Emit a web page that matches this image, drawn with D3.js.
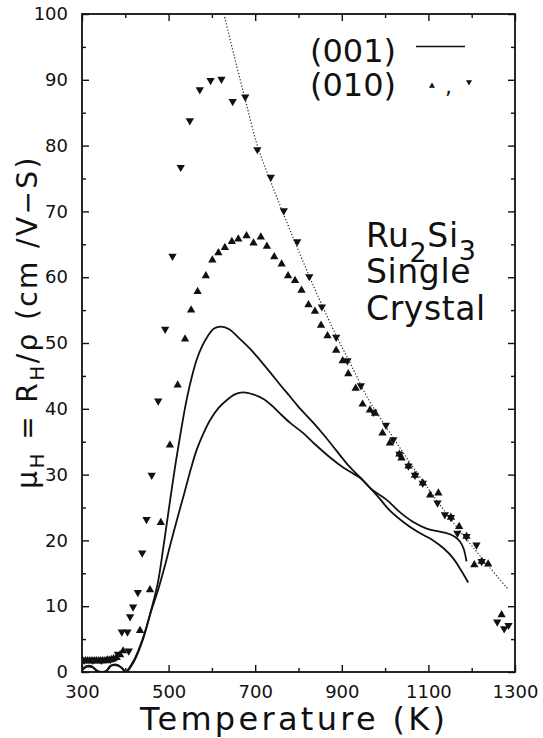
<!DOCTYPE html>
<html>
<head>
<meta charset="utf-8">
<script src="https://cdn.jsdelivr.net/npm/d3@7"></script>
<style>
  body { margin: 0; background: #fff; }
  svg { display: block; font-family: "DejaVu Sans", sans-serif; }
</style>
</head>
<body>
<div id="chart"></div>
<script>
// axis ticks
var xTicks = [300, 500, 700, 900, 1100, 1300];
var xMinorTicks = [400, 600, 800, 1000, 1200];
var yTicks = [0, 10, 20, 30, 40, 50, 60, 70, 80, 90, 100];
var yMinorTicks = [5, 15, 25, 35, 45, 55, 65, 75, 85, 95];

// (001) solid curves, [T (K), mobility]
var curveA = [[300,0.2],[310,0.9],[322,0.9],[335,0.1],[355,0.1],[365,0.9],[380,1.0],[392,0.6],[400,0],
  [420,1.8],[440,5],[460,9.5],[475,13.5],[488,19],[500,24.5],[515,31.2],[530,37.2],[542,41.5],[555,45.2],
  [565,47.5],[578,49.6],[590,51],[605,52.2],[622,52.5],[640,52.1],[665,50.6],[690,49],[711,47.4],
  [735,45.5],[757,43.7],[780,41.9],[800,40.3],[834,37.9],[860,35.9],[888,33.6],[915,31.4],[942,29.6],
  [965,28],[988,26.3],[1010,24.6],[1042,22.8],[1075,21.3],[1111,20],[1135,18.8],[1157,17.3],
  [1175,15.5],[1192,13.6]];
var curveB = [[300,0.3],[312,0.8],[325,0.7],[338,0.1],[357,0.2],[368,1.0],[382,1.1],[394,0.5],[402,0],
  [420,1.6],[440,4.8],[460,9.3],[475,12.3],[490,15.8],[505,19.6],[520,23.3],[538,27.6],[552,31],
  [565,33.8],[580,36.2],[596,38.3],[615,40.1],[634,41.3],[653,42.2],[672,42.5],[695,42.2],[719,41.5],
  [740,40.4],[757,39.3],[780,37.9],[811,36.3],[840,34.5],[873,32.6],[905,31],[942,29.5],[970,27.7],
  [1003,26.2],[1034,24.3],[1065,22.8],[1096,21.8],[1120,21.4],[1142,21.1],[1160,20.6],[1172,19.9],
  [1181,18.8],[1188,16.8]];

// dotted guide line
var fitLine = [[628,100],[650,94],[677,87],[705,80],[736,74.5],[766,69.5],[797,64.5],[826,60],
  [856,55.5],[888,51],[919,47],[961,41.5],[1000,37.5],[1040,33.5],[1080,29.7],[1120,26],[1160,22.5],
  [1200,19.2],[1240,16],[1285,12.5]];

// (010) points, up triangles
var upPoints = [[302,1.7],[308,1.7],[313,1.7],[318,1.7],[323,1.7],[328,1.7],[333,1.7],[338,1.7],
  [343,1.7],[348,1.7],[353,1.7],[358,1.8],[363,1.8],[368,1.9],[373,2.0],[380,2.2],[388,2.6],[395,3.2],
  [434,6.3],[457,12.5],[482,22.7],[503,34.5],[521,43.6],[538,50.6],[552,55],[567,57.8],[586,60.2],
  [601,62.6],[615,63.7],[630,64.5],[646,65.4],[661,65.8],[680,66.3],[696,65.2],[713,66.1],[727,64.7],
  [744,63.1],[761,62],[776,60.2],[792,59.5],[807,58],[823,55.8],[838,54.8],[852,52.7],[867,51.1],
  [887,48.9],[902,47.3],[915,45.3],[932,43.1],[948,40.7],[965,39.8],[977,39.3],[994,36.3],[1011,34.8],
  [1033,33.1],[1038,32.5],[1054,31.3],[1069,29.9],[1087,28.7],[1104,26.9],[1123,27.2],[1152,23.5],
  [1171,22.1],[1188,20.6],[1206,16.3],[1223,16.8],[1238,16.4],[1269,8.7]];

// (010) points, down triangles
var downPoints = [[305,1.8],[325,1.8],[345,1.8],[365,1.9],[383,2.7],[392,6.1],[405,6.1],[408,3.2],
  [411,8.4],[418,9.9],[429,12.1],[439,18.1],[449,23.2],[461,29.9],[476,41.2],[492,52.1],[509,63.2],
  [528,76.7],[549,83.8],[572,88.5],[597,89.9],[622,90.1],[648,86.7],[677,87.4],[705,79.4],[736,75.2],
  [766,70.1],[797,65.4],[825,60.1],[854,55.5],[887,50.9],[913,47.3],[944,43.5],[973,39.5],[1002,37.5],
  [1019,35.3],[1033,33.1],[1054,31.3],[1069,29.9],[1087,28.7],[1121,25.7],[1138,23.9],[1152,23.5],
  [1167,21.1],[1188,20.6],[1211,19.3],[1223,16.8],[1259,7.6],[1275,6.6],[1285,7.1]];

var width = 543, height = 738;
var plotLeft = 82, plotRight = 515, plotTop = 14, plotBottom = 672;

var svg = d3.select("#chart")
  .append("svg")
  .attr("width", width)
  .attr("height", height);

svg.append("rect")
  .attr("width", width)
  .attr("height", height)
  .attr("fill", "#fff");

var x = d3.scaleLinear().domain([300, 1300]).range([plotLeft, plotRight]);
var y = d3.scaleLinear().domain([0, 100]).range([plotBottom, plotTop]);

function drawAxis(axis, tx, ty, labels) {
  var g = svg.append("g")
    .attr("transform", "translate(" + tx + "," + ty + ")")
    .call(axis);
  g.select(".domain").remove();
  g.selectAll("line").attr("stroke", "#111").attr("stroke-width", 1.4);
  g.selectAll("text")
    .attr("fill", "#111")
    .attr("font-size", labels ? "18px" : "0px")
    .attr("font-family", "DejaVu Sans, sans-serif");
  return g;
}

// major + minor ticks, pointing inward on all four sides
drawAxis(d3.axisBottom(x).tickValues(xTicks).tickSize(-7).tickPadding(13).tickFormat(d3.format("d")), 0, plotBottom, true);
drawAxis(d3.axisBottom(x).tickValues(xMinorTicks).tickSize(-4).tickFormat(""), 0, plotBottom, false);
drawAxis(d3.axisTop(x).tickValues(xTicks).tickSize(-7).tickFormat(""), 0, plotTop, false);
drawAxis(d3.axisTop(x).tickValues(xMinorTicks).tickSize(-4).tickFormat(""), 0, plotTop, false);
drawAxis(d3.axisLeft(y).tickValues(yTicks).tickSize(-7).tickPadding(14).tickFormat(d3.format("d")), plotLeft, 0, true);
drawAxis(d3.axisLeft(y).tickValues(yMinorTicks).tickSize(-4).tickFormat(""), plotLeft, 0, false);
drawAxis(d3.axisRight(y).tickValues(yTicks).tickSize(-7).tickFormat(""), plotRight, 0, false);
drawAxis(d3.axisRight(y).tickValues(yMinorTicks).tickSize(-4).tickFormat(""), plotRight, 0, false);

svg.append("rect")
  .attr("x", plotLeft)
  .attr("y", plotTop)
  .attr("width", plotRight - plotLeft)
  .attr("height", plotBottom - plotTop)
  .attr("fill", "none")
  .attr("stroke", "#111")
  .attr("stroke-width", 1.8);

svg.append("clipPath")
  .attr("id", "plotClip")
  .append("rect")
  .attr("x", plotLeft)
  .attr("y", plotTop)
  .attr("width", plotRight - plotLeft)
  .attr("height", plotBottom - plotTop);

var plot = svg.append("g").attr("clip-path", "url(#plotClip)");

var line = d3.line()
  .x(function(d) { return x(d[0]); })
  .y(function(d) { return y(d[1]); })
  .curve(d3.curveCatmullRom);

plot.append("path")
  .datum(fitLine)
  .attr("d", line)
  .attr("fill", "none")
  .attr("stroke", "#222")
  .attr("stroke-width", 1.2)
  .attr("stroke-dasharray", "1.2,2");

[curveA, curveB].forEach(function(c) {
  plot.append("path")
    .datum(c)
    .attr("d", line)
    .attr("fill", "none")
    .attr("stroke", "#111")
    .attr("stroke-width", 1.8);
});

var tri = d3.symbol().type(d3.symbolTriangle).size(30);

plot.selectAll(".up")
  .data(upPoints)
  .enter()
  .append("path")
  .attr("class", "up")
  .attr("d", tri)
  .attr("fill", "#111")
  .attr("transform", function(d) { return "translate(" + x(d[0]) + "," + y(d[1]) + ")"; });

plot.selectAll(".down")
  .data(downPoints)
  .enter()
  .append("path")
  .attr("class", "down")
  .attr("d", tri)
  .attr("fill", "#111")
  .attr("transform", function(d) { return "translate(" + x(d[0]) + "," + y(d[1]) + ") rotate(180)"; });

// axis titles
svg.append("text")
  .attr("x", 140)
  .attr("y", 730)
  .attr("font-size", "32px")
  .attr("fill", "#111")
  .attr("textLength", 305)
  .attr("lengthAdjust", "spacing")
  .text("Temperature (K)");

var yLabel = svg.append("text")
  .attr("transform", "translate(37,322) rotate(-90)")
  .attr("text-anchor", "middle")
  .attr("font-size", "28px")
  .attr("fill", "#111")
  .attr("letter-spacing", "2.4px");
yLabel.append("tspan").text("μ");
yLabel.append("tspan").attr("font-size", "20px").attr("dy", 7).text("H");
yLabel.append("tspan").attr("dy", -7).text(" = R");
yLabel.append("tspan").attr("font-size", "20px").attr("dy", 7).text("H");
yLabel.append("tspan").attr("dy", -7).text("/ρ (cm  /V−S)");

// legend
svg.append("text")
  .attr("x", 310)
  .attr("y", 62)
  .attr("font-size", "32px")
  .attr("fill", "#111")
  .text("(001)");
svg.append("line")
  .attr("x1", 416).attr("x2", 465)
  .attr("y1", 46.5).attr("y2", 46.5)
  .attr("stroke", "#111")
  .attr("stroke-width", 1.6);
svg.append("text")
  .attr("x", 310)
  .attr("y", 96)
  .attr("font-size", "32px")
  .attr("fill", "#111")
  .text("(010)");
svg.append("path")
  .attr("d", d3.symbol().type(d3.symbolTriangle).size(16))
  .attr("transform", "translate(432,86)")
  .attr("fill", "#111");
svg.append("text")
  .attr("x", 445)
  .attr("y", 94)
  .attr("font-size", "22px")
  .attr("fill", "#111")
  .text(",");
svg.append("path")
  .attr("d", d3.symbol().type(d3.symbolTriangle).size(16))
  .attr("transform", "translate(469,82) rotate(180)")
  .attr("fill", "#111");

// sample label
var ru = svg.append("text")
  .attr("x", 366)
  .attr("y", 247)
  .attr("font-size", "33px")
  .attr("letter-spacing", "0.6px")
  .attr("fill", "#111");
ru.append("tspan").text("Ru");
ru.append("tspan").attr("font-size", "27px").attr("dy", 15).text("2");
ru.append("tspan").attr("dy", -15).text("Si");
ru.append("tspan").attr("font-size", "27px").attr("dy", 13).text("3");

svg.append("text")
  .attr("x", 366)
  .attr("y", 283)
  .attr("font-size", "33px")
  .attr("letter-spacing", "0.6px")
  .attr("fill", "#111")
  .text("Single");
svg.append("text")
  .attr("x", 366)
  .attr("y", 320)
  .attr("font-size", "33px")
  .attr("letter-spacing", "0.6px")
  .attr("fill", "#111")
  .text("Crystal");
</script>
</body>
</html>
